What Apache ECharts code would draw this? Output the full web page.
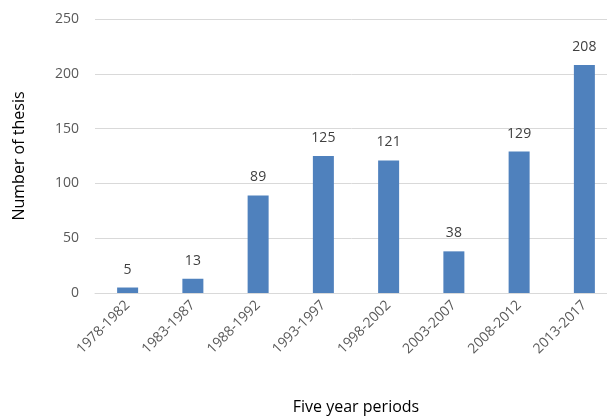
<!DOCTYPE html>
<html><head><meta charset="utf-8">
<script src="https://cdn.jsdelivr.net/npm/echarts@6/dist/echarts.min.js"></script>
<style>html,body{margin:0;padding:0;background:#fff}#c{width:607px;height:417px}</style>
</head><body><div id="c"></div>
<script>
const categories = ["1978-1982","1983-1987","1988-1992","1993-1997","1998-2002","2003-2007","2008-2012","2013-2017"];
const values = [5,13,89,125,121,38,129,208];
const yTicks = {min:0,max:250,interval:50};
const chart = echarts.init(document.getElementById('c'));
const font = "Open Sans";
chart.setOption({
  animation:false,
  grid:{left:95,top:19,width:522,height:274,containLabel:false,outerBoundsMode:'none'},
  xAxis:{type:'category',data:categories,
    name:'Five year periods',nameLocation:'middle',nameGap:106,
    nameTextStyle:{fontFamily:font,fontSize:16,color:'#000'},
    axisLine:{lineStyle:{color:'#d9d9d9',width:1}},axisTick:{show:false},
    axisLabel:{rotate:45,fontFamily:font,fontSize:14,color:'#595959',margin:10,interval:0}},
  yAxis:{type:'value',min:yTicks.min,max:yTicks.max,interval:yTicks.interval,
    name:'Number of thesis',nameLocation:'middle',nameGap:68,nameRotate:90,
    nameTextStyle:{fontFamily:font,fontSize:16,color:'#000'},
    axisLine:{show:false},axisTick:{show:false},
    axisLabel:{fontFamily:font,fontSize:14,color:'#595959',margin:16},
    splitLine:{lineStyle:{color:'#d9d9d9',width:1}}},
  series:[{type:'bar',data:values,barWidth:21,
    itemStyle:{color:'#4F81BD'},
    label:{show:true,position:'top',distance:11,fontFamily:font,fontSize:14,color:'#404040'}}]
});
</script></body></html>
